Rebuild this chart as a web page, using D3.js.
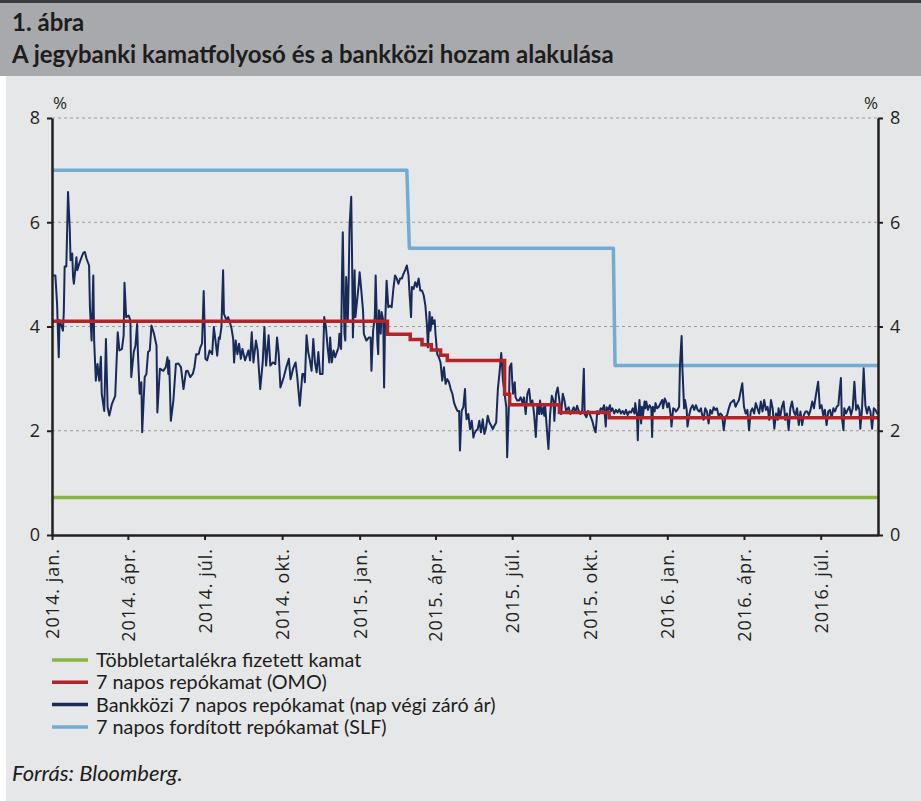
<!DOCTYPE html>
<html><head><meta charset="utf-8">
<script src="https://cdn.jsdelivr.net/npm/d3@7"></script>
<style>body{margin:0;background:#fff;} svg{display:block}</style>
</head><body>
<svg id="chart" width="921" height="801"></svg>
<script>
// ---------------- data ----------------
const startDate = new Date(2014, 0, 1);
const endDay = 980; // days after 2014-01-01 (approx. 2016-09-07)

const tickDates = ["2014-01-01","2014-04-01","2014-07-01","2014-10-01","2015-01-01","2015-04-01",
                   "2015-07-01","2015-10-01","2016-01-01","2016-04-01","2016-07-01"];
const tickLabels = ["2014. jan.","2014. ápr.","2014. júl.","2014. okt.","2015. jan.","2015. ápr.",
                    "2015. júl.","2015. okt.","2016. jan.","2016. ápr.","2016. júl."];
const yTicks = [0, 2, 4, 6, 8];

const seriesNames = ["Többletartalékra fizetett kamat", "7 napos repókamat (OMO)",
                     "Bankközi 7 napos repókamat (nap végi záró ár)", "7 napos fordított repókamat (SLF)"];
const seriesColors = ["#88b443", "#b32328", "#172a5a", "#72abd3"];

// excess reserve rate
const excessDays = [0, 980];
const excessRates = [0.72, 0.72];
// 7-day repo (OMO), step changes
const omoDays = [0, 398, 425, 439, 450, 461, 469, 537, 543, 602, 661, 980];
const omoRates = [4.10, 3.85, 3.75, 3.65, 3.55, 3.45, 3.35, 2.70, 2.50, 2.35, 2.25, 2.25];
// 7-day SLF
const slfDays = [0, 421, 424, 666, 668, 980];
const slfRates = [7.0, 7.0, 5.5, 5.5, 3.25, 3.25];

// interbank 7-day repo (closing)
const interbankDays = [
0,4,6,8,9,13,14,15,17,19,21,22,24,25,26,29,30,33,37,39,41,44,45,47,49,50,52,54,56,58,
59,62,64,66,68,71,75,78,80,83,85,86,88,91,93,94,97,99,101,102,104,106,107,110,112,114,116,118,121,124,
125,128,132,135,137,138,139,141,144,147,150,153,156,159,161,164,167,169,171,174,
176,178,180,182,184,187,190,192,194,196,198,199,201,203,204,207,209,211,213,215,
216,218,220,222,224,226,229,231,233,235,237,239,242,244,247,250,252,254,257,259,
262,265,267,269,271,275,278,281,283,286,289,291,294,297,299,300,302,304,306,308,
310,312,314,316,318,321,323,325,327,329,
330,332,334,336,338,340,341,343,344,345,347,348,349,351,352,353,355,356,357,359,
360,362,364,365,367,369,370,373,376,378,379,381,383,384,386,387,388,390,391,393,
394,395,397,399,401,403,405,407,409,411,413,415,417,419,421,423,424,426,427,429,
431,433,435,437,439,441,443,445,446,448,449,451,452,454,455,457,459,461,463,465,
467,469,471,473,475,477,479,481,483,484,486,488,490,491,492,494,496,498,500,501,
503,505,507,509,511,513,515,517,519,521,523,525,527,529,531,533,534,535,537,539,
540,542,543,545,546,547,549,550,552,554,556,558,560,562,564,566,568,570,572,574,
576,578,579,581,583,584,585,587,589,591,593,595,596,598,600,602,604,606,608,610,
613,615,617,619,621,623,625,627,629,631,632,634,636,638,641,643,645,647,649,
651,653,655,657,658,660,662,663,665,667,669,671,673,675,677,679,681,683,685,687,
689,691,692,694,695,696,697,699,700,701,703,704,705,707,709,711,712,713,715,716,
718,720,722,724,725,727,729,730,732,734,735,737,739,740,742,744,745,747,748,750,
751,753,754,756,758,760,762,764,766,768,770,771,773,775,777,779,781,783,785,787,
789,791,793,795,797,799,801,803,805,807,809,811,813,815,817,819,821,823,825,827,
829,831,833,835,837,839,841,843,845,847,849,851,853,855,857,859,861,862,864,866,
868,870,872,874,876,878,880,882,884,886,888,890,892,894,896,898,900,902,904,906,
909,911,913,915,917,919,921,923,925,927,929,931,933,934,936,937,939,940,942,944,
946,948,950,952,954,956,958,959,961,963,965,967,969,971,973,975,977,979,980];
const interbankRates = [
4.98,4.98,4.44,3.41,4.12,3.92,4.28,5.15,5.15,6.58,5.91,5.27,5.40,4.95,4.82,5.33,5.08,5.24,5.41,5.43,
5.30,5.17,4.37,3.73,4.98,3.73,2.96,3.28,2.96,3.42,2.71,2.38,3.76,2.45,2.29,2.51,2.67,3.89,3.54,3.57,
3.83,4.84,4.18,4.21,4.12,3.03,3.51,3.63,4.05,3.47,2.71,2.93,1.97,3.03,3.09,3.51,3.54,4.02,3.86,3.63,
2.35,3.19,3.15,3.22,3.41,3.09,3.35,2.19,2.58,3.28,3.29,3.22,2.80,3.14,3.15,3.03,3.09,3.22,3.47,3.47,
3.60,3.67,4.68,3.38,3.35,3.54,3.47,3.99,3.73,3.44,3.79,3.76,3.99,5.08,4.24,4.12,4.18,4.08,3.96,3.76,
3.31,3.73,3.47,3.67,3.38,3.57,3.35,3.44,3.54,3.35,3.89,3.31,3.73,3.54,2.80,3.31,3.99,3.25,3.83,3.25,
3.31,3.28,3.79,3.47,2.83,3.03,3.22,3.38,2.99,3.19,3.31,3.03,2.48,3.09,3.09,2.93,3.83,3.51,3.35,3.15,
3.76,3.31,3.12,3.51,3.09,3.09,4.18,3.99,3.60,3.31,
3.79,3.31,3.54,3.41,3.51,3.60,3.86,3.57,4.95,5.81,3.86,3.73,4.95,4.12,4.88,5.91,6.49,5.33,3.79,5.08,
4.18,4.50,4.82,5.04,4.69,4.31,3.86,3.73,3.79,3.79,3.15,3.92,4.18,4.98,3.73,3.47,4.31,3.86,4.28,4.12,
2.83,3.92,4.88,4.37,4.40,4.37,4.72,4.98,4.92,4.82,4.92,4.92,5.01,5.08,5.17,4.98,4.69,4.18,4.76,4.72,
4.85,4.76,4.92,4.69,4.69,4.60,4.40,3.99,3.60,4.28,3.92,4.18,4.05,4.12,3.86,3.47,3.41,3.31,2.96,3.22,
2.90,2.99,2.93,2.80,2.71,2.54,2.45,2.38,2.38,1.62,2.38,2.45,2.80,2.38,2.22,2.32,2.03,2.19,1.87,1.94,
2.00,2.03,2.19,1.97,2.22,1.94,2.06,2.29,2.16,2.10,2.03,2.10,2.16,2.80,3.12,3.49,3.25,2.96,2.71,2.45,
1.49,2.45,3.22,3.29,2.96,2.71,2.93,2.64,2.58,2.58,2.64,2.54,2.64,2.32,2.71,2.80,2.51,2.58,2.32,1.88,
2.51,2.32,2.58,2.32,2.45,2.29,2.51,2.06,1.65,2.32,2.67,2.58,2.19,2.71,2.83,2.58,2.32,2.71,2.58,2.38,
2.45,2.32,2.38,2.45,2.35,2.48,2.38,2.32,2.38,3.19,2.32,2.26,2.38,2.32,2.19,2.06,1.97,2.38,2.32,
2.43,2.40,2.49,2.08,2.45,2.40,2.49,2.37,2.43,2.33,2.40,2.35,2.41,2.33,2.38,2.32,2.40,2.30,2.37,2.35,
2.43,2.33,2.53,2.30,1.82,2.33,2.59,2.14,2.46,2.27,2.56,2.43,2.56,2.40,2.49,2.43,1.88,2.46,2.37,2.53,
2.43,2.46,2.53,2.59,2.43,2.62,2.54,2.45,2.53,2.30,2.08,2.43,2.41,2.37,2.40,2.46,3.23,3.82,3.17,2.43,
2.59,2.40,2.08,2.30,2.43,2.49,2.40,2.49,2.40,2.37,2.43,2.33,2.21,2.43,2.37,2.14,2.40,2.33,2.45,2.40,
2.43,2.27,2.33,2.30,2.01,2.27,2.30,2.43,2.53,2.56,2.59,2.46,2.53,2.59,2.75,2.91,2.46,2.33,2.40,2.01,
2.37,2.43,2.33,2.53,2.43,2.33,2.56,2.37,2.59,2.40,2.46,2.21,2.59,2.43,2.04,2.33,2.21,2.43,2.27,2.46,
2.56,2.21,2.33,2.01,2.43,2.56,2.37,2.30,2.43,2.11,2.37,2.11,2.30,2.37,2.37,2.30,2.40,2.56,2.43,2.65,
2.94,2.43,2.49,2.30,2.40,2.11,2.37,2.40,2.24,2.43,2.37,2.46,2.49,2.69,3.01,2.27,2.01,2.43,2.33,2.40,
2.46,2.30,2.43,2.94,2.40,2.49,2.40,2.04,2.40,3.20,2.49,2.33,2.46,2.37,2.04,2.43,2.40,2.33,2.35];

// ---------------- drawing ----------------
const toDate = d => d3.timeDay.offset(startDate, d);
const parse = d3.timeParse("%Y-%m-%d");
const zip = (ds, vs) => ds.map((d, i) => ({date: toDate(d), value: vs[i]}));

const svg = d3.select("#chart");
const axisColor = "#231f20";
const textColor = "#1d1d1b";

// background panels
svg.append("rect").attr("x", 0).attr("y", 0).attr("width", 921).attr("height", 801).attr("fill", "#ffffff");
svg.append("rect").attr("x", 6).attr("y", 76).attr("width", 915).attr("height", 725).attr("fill", "#e6e7e8");
svg.append("rect").attr("x", 0).attr("y", 3).attr("width", 921).attr("height", 73).attr("fill", "#a7a9ac");
svg.append("rect").attr("x", 0).attr("y", 0).attr("width", 921).attr("height", 3).attr("fill", "#3b3b3d");

svg.append("text").attr("x", 12).attr("y", 31).text("1. ábra")
  .attr("font-family", "Lato, sans-serif").attr("font-weight", "bold").attr("font-size", 24).attr("fill", textColor);
svg.append("text").attr("x", 12).attr("y", 63).text("A jegybanki kamatfolyosó és a bankközi hozam alakulása")
  .attr("font-family", "Lato, sans-serif").attr("font-weight", "bold").attr("font-size", 24).attr("fill", textColor);

const x = d3.scaleTime().domain([toDate(0), toDate(endDay)]).range([52, 878]);
const y = d3.scaleLinear().domain([0, 8]).range([535, 118]);

// gridlines
svg.append("g").selectAll("line").data(yTicks.filter(v => v > 0)).join("line")
  .attr("x1", x.range()[0]).attr("x2", x.range()[1])
  .attr("y1", d => y(d)).attr("y2", d => y(d))
  .attr("stroke", "#9c9c9c").attr("stroke-width", 1).attr("stroke-dasharray", "3,3");

// series lines
const line = d3.line().x(d => x(d.date)).y(d => y(d.value));
const stepLine = d3.line().x(d => x(d.date)).y(d => y(d.value)).curve(d3.curveStepAfter);

svg.append("path").datum(zip(excessDays, excessRates)).attr("d", line)
  .attr("fill", "none").attr("stroke", seriesColors[0]).attr("stroke-width", 3.5);
svg.append("path").datum(zip(slfDays, slfRates)).attr("d", line)
  .attr("fill", "none").attr("stroke", seriesColors[3]).attr("stroke-width", 3.5).attr("stroke-linejoin", "round");
svg.append("path").datum(zip(interbankDays, interbankRates)).attr("d", line)
  .attr("fill", "none").attr("stroke", seriesColors[2]).attr("stroke-width", 2).attr("stroke-linejoin", "round");
svg.append("path").datum(zip(omoDays, omoRates)).attr("d", stepLine)
  .attr("fill", "none").attr("stroke", seriesColors[1]).attr("stroke-width", 3.5);

// axes
function styleAxis(g) {
  g.select(".domain").attr("stroke", axisColor).attr("stroke-width", 2.5);
  g.selectAll(".tick line").attr("stroke", axisColor).attr("stroke-width", 2);
  g.selectAll(".tick text").attr("fill", axisColor).attr("font-family", "'Open Sans', sans-serif").attr("font-size", 18);
}
svg.append("g").attr("transform", "translate(52,0)")
  .call(d3.axisLeft(y).tickValues(yTicks).tickSize(5).tickSizeOuter(0).tickPadding(7).tickFormat(d3.format("d")))
  .call(styleAxis);
svg.append("g").attr("transform", "translate(878,0)")
  .call(d3.axisRight(y).tickValues(yTicks).tickSize(5).tickSizeOuter(0).tickPadding(7).tickFormat(d3.format("d")))
  .call(styleAxis);
const xAxisG = svg.append("g").attr("transform", "translate(0,535)")
  .call(d3.axisBottom(x).tickValues(tickDates.map(parse)).tickSize(5).tickSizeOuter(0)
        .tickFormat((d, i) => tickLabels[i]))
  .call(styleAxis);
xAxisG.selectAll(".tick text")
  .attr("transform", "rotate(-90)").attr("x", -13).attr("y", 0).attr("dy", "0.36em")
  .attr("text-anchor", "end").attr("font-size", 18).style("letter-spacing", "1px");

// % labels
svg.append("text").attr("x", 60).attr("y", 109).attr("text-anchor", "middle").text("%")
  .attr("font-family", "'Open Sans', sans-serif").attr("font-size", 17).attr("fill", axisColor);
svg.append("text").attr("x", 871).attr("y", 109).attr("text-anchor", "middle").text("%")
  .attr("font-family", "'Open Sans', sans-serif").attr("font-size", 17).attr("fill", axisColor);

// legend
const legendOrder = [0, 1, 2, 3];
const lg = svg.append("g").selectAll("g").data(legendOrder).join("g")
  .attr("transform", (d, i) => `translate(52,${660 + i * 22.3})`);
lg.append("line").attr("x1", 0).attr("x2", 36).attr("y1", 0).attr("y2", 0)
  .attr("stroke", d => seriesColors[d]).attr("stroke-width", 3.5);
lg.append("text").attr("x", 44).attr("y", 0).attr("dy", "0.35em").text(d => seriesNames[d])
  .attr("font-family", "Lato, sans-serif").attr("font-size", 19.8).attr("fill", textColor);

svg.append("text").attr("x", 12).attr("y", 781).text("Forrás: Bloomberg.")
  .attr("font-family", "Lato, sans-serif").attr("font-style", "italic").attr("font-size", 22).attr("fill", textColor);
</script>
</body></html>
